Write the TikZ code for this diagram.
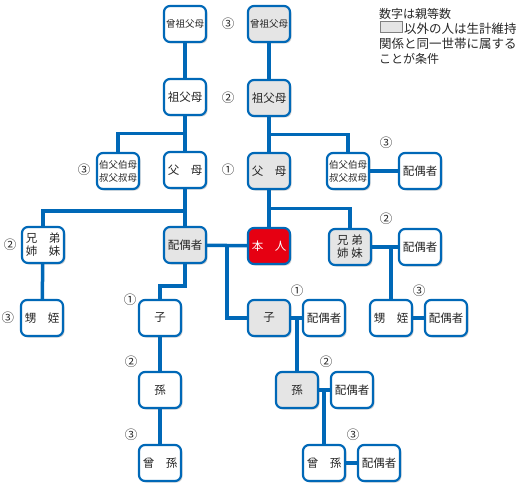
\documentclass[tikz,border=0pt]{standalone}
\usepackage{fontspec}
\setmainfont{Noto Sans CJK JP}
\usepackage{tikz}
\usetikzlibrary{calc,shadows}
\definecolor{kblue}{RGB}{0,104,183}
\definecolor{kgray}{RGB}{229,229,229}
\definecolor{kred}{RGB}{230,0,18}
\definecolor{ktext}{RGB}{38,38,38}
\tikzset{
	person/.style={draw=kblue,line width=2.2pt,rounded corners=6pt,fill=white,
		minimum width=42pt,minimum height=36pt,inner sep=0pt,align=center,
		text=ktext,font=\fontsize{11.5}{13}\selectfont,
		drop shadow={shadow xshift=1.5pt,shadow yshift=-1.5pt,opacity=.35}},
	kin/.style={person,fill=kgray},
	honin/.style={person,fill=kred,text=white},
	small/.style={font=\fontsize{9.5}{13}\selectfont},
	deg/.style={text=ktext,inner sep=0pt,font=\fontsize{12.5}{12.5}\selectfont},
	legend/.style={text=ktext,inner sep=0pt,anchor=base west,font=\fontsize{12}{12}\selectfont},
	link/.style={draw=kblue,line width=3.5pt}
}
\begin{document}
\begin{tikzpicture}[x=1pt,y=-1pt]
			\useasboundingbox (0,0) rectangle (518,489);
			
			\node[person,small] (ggpL) at (185,24) {曾祖父母};
			\node[person] (gpL) at (185,97) {祖父母};
			\node[person] (parL) at (185,170) {父　母};
			\node[person,small] (uncL) at (118,171) {伯父伯母\\叔父叔母};
			\node[kin,small] (ggpR) at (269,24) {曾祖父母};
			\node[kin] (gpR) at (269,98) {祖父母};
			\node[kin] (parR) at (269,171) {父　母};
			\node[person,small] (uncR) at (348,171) {伯父伯母\\叔父叔母};
			\node[person] (uncsp) at (420,171) {配偶者};
			
			\node[person] (sibL) at (43,245) {兄　弟\\姉　妹};
			\node[kin] (sp) at (185,245) {配偶者};
			\node[honin] (self) at (269,246) {本　人};
			\node[kin] (sibR) at (350,247) {兄 弟\\姉 妹};
			\node[person] (sibsp) at (420,247) {配偶者};
			
			\node[person] (nephL) at (42,318) {甥　姪};
			\node[person] (childL) at (160,318) {子};
			\node[kin] (childR) at (269,318) {子};
			\node[person] (childsp) at (324,318) {配偶者};
			\node[person] (nephR) at (391,318) {甥　姪};
			\node[person] (nephsp) at (446,318) {配偶者};
			
			\node[person] (gcL) at (160,390) {孫};
			\node[kin] (gcR) at (297,390) {孫};
			\node[person] (gcsp) at (352,390) {配偶者};
			\node[person] (ggcL) at (160,463) {曾　孫};
			\node[person] (ggcR) at (324,463) {曾　孫};
			\node[person] (ggcsp) at (379,463) {配偶者};
			
			\draw[link] (ggpL) -- (gpL) -- (parL) -- (sp);
			\draw[link] (uncL.north) |- ($(gpL.south)!.5!(parL.north)$);
			\draw[link] (sibL.north) |- ($(parL.south)!.6!(sp.north)$);
			\draw[link] (sibL) -- (nephL);
			\draw[link] (ggpR) -- (gpR) -- (parR) -- (self);
			\draw[link] (uncR.north) |- ($(gpR.south)!.5!(parR.north)$);
			\draw[link] (uncR) -- (uncsp);
			\draw[link] (sibR.north) |- ($(parR.south)!.5!(self.north)$);
			\draw[link] (sibR) -- (sibsp);
			\draw[link] (nephR) -- (nephR |- sibR);
			\draw[link] (nephR) -- (nephsp);
			\draw[link] (sp) -- (self);
			\draw[link] ($(sp.east)!.5!(self.west)$) |- (childR);
			\draw[link] (sp.south) -- ++(0,22) -| (childL.north);
			\draw[link] (childL) -- (gcL) -- (ggcL);
			\draw[link] (childR) -- (childsp);
			\draw[link] (gcR) -- (gcR |- childR);
			\draw[link] (gcR) -- (gcsp);
			\draw[link] (ggcR) -- (ggcR |- gcR);
			\draw[link] (ggcR) -- (ggcsp);
			
			\node[deg] (d1) at (228,24) {③};
			\node[deg] (d2) at (228,98) {②};
			\node[deg] (d3) at (228,170) {①};
			\node[deg] (d4) at (84,170) {③};
			\node[deg] (d5) at (386,143) {③};
			\node[deg] (d6) at (10,245) {②};
			\node[deg] (d7) at (8,318) {③};
			\node[deg] (d8) at (386,219) {②};
			\node[deg] (d9) at (419,291) {③};
			\node[deg] (d10) at (297,291) {①};
			\node[deg] (d11) at (130,300) {①};
			\node[deg] (d12) at (131,362) {②};
			\node[deg] (d13) at (131,435) {③};
			\node[deg] (d14) at (326,362) {②};
			\node[deg] (d15) at (353,435) {③};
			
			\node[legend] (leg1) at (379,18.5) {数字は親等数};
			\draw[gray,fill=kgray,line width=.6pt] (380,21) rectangle (402,32);
			\node[legend,font=\fontsize{12.5}{12.5}\selectfont] (leg2) at (404,33.5) {以外の人は生計維持};
			\node[legend,font=\fontsize{12.5}{12.5}\selectfont] (leg3) at (379,48.5) {関係と同一世帯に属する};
			\node[legend] (leg4) at (379,63.5) {ことが条件};
		\end{tikzpicture}
\end{document}
